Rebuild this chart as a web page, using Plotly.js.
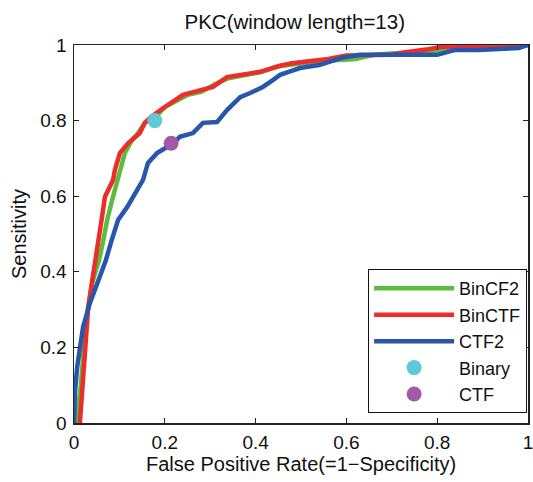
<!DOCTYPE html>
<html>
<head>
<meta charset="utf-8">
<script src="https://cdn.plot.ly/plotly-3.0.1.min.js"></script>
<style>html,body{margin:0;padding:0;background:#fff;}#chart{width:533px;height:482px;}</style>
</head>
<body>
<div id="chart"></div>
<script>
// BinCF2 (green)
const binCF2_x = [0.005, 0.015, 0.022, 0.03, 0.04, 0.055, 0.064, 0.073, 0.084, 0.095, 0.103, 0.112, 0.126, 0.141, 0.156, 0.18, 0.2, 0.22, 0.25, 0.28, 0.31, 0.34, 0.37, 0.41, 0.45, 0.5, 0.55, 0.62, 0.66, 0.74, 0.8, 0.86, 0.95, 1.0];
const binCF2_y = [0.0, 0.1, 0.2, 0.3, 0.37, 0.43, 0.48, 0.537, 0.59, 0.643, 0.68, 0.714, 0.745, 0.767, 0.794, 0.81, 0.836, 0.85, 0.868, 0.876, 0.896, 0.912, 0.92, 0.928, 0.944, 0.95, 0.958, 0.963, 0.974, 0.981, 0.987, 0.991, 0.996, 1.0];
// BinCTF (red)
const binCTF_x = [0.013, 0.02, 0.024, 0.031, 0.038, 0.046, 0.055, 0.062, 0.064, 0.068, 0.078, 0.086, 0.09, 0.101, 0.119, 0.134, 0.145, 0.156, 0.17, 0.2, 0.218, 0.24, 0.271, 0.306, 0.337, 0.366, 0.41, 0.454, 0.48, 0.56, 0.6, 0.7, 0.73, 0.78, 0.81, 0.894, 1.0];
const binCTF_y = [0.0, 0.106, 0.2, 0.3, 0.36, 0.42, 0.48, 0.537, 0.563, 0.598, 0.62, 0.643, 0.669, 0.714, 0.74, 0.757, 0.767, 0.794, 0.81, 0.836, 0.849, 0.868, 0.878, 0.889, 0.915, 0.921, 0.929, 0.945, 0.952, 0.963, 0.972, 0.974, 0.981, 0.989, 0.995, 0.997, 1.0];
// CTF2 (blue)
const ctf2_x = [0.0, 0.002, 0.007, 0.013, 0.02, 0.035, 0.046, 0.064, 0.07, 0.082, 0.097, 0.117, 0.13, 0.152, 0.163, 0.183, 0.205, 0.22, 0.233, 0.262, 0.284, 0.315, 0.337, 0.366, 0.388, 0.416, 0.438, 0.454, 0.476, 0.498, 0.54, 0.59, 0.63, 0.8, 0.84, 0.89, 0.98, 1.0];
const ctf2_y = [0.0, 0.08, 0.148, 0.193, 0.254, 0.317, 0.352, 0.405, 0.43, 0.48, 0.537, 0.571, 0.598, 0.643, 0.688, 0.714, 0.73, 0.74, 0.757, 0.767, 0.794, 0.796, 0.828, 0.862, 0.873, 0.889, 0.907, 0.921, 0.93, 0.939, 0.947, 0.966, 0.974, 0.974, 0.987, 0.987, 0.992, 1.0];
// single operating points
const binary_x = [0.178];
const binary_y = [0.80];
const ctf_x = [0.214];
const ctf_y = [0.74];

const tickVals = [0, 0.2, 0.4, 0.6, 0.8, 1];
const tickText = ['0', '0.2', '0.4', '0.6', '0.8', '1'];

const FONT = 'Liberation Sans, Arial, sans-serif';

const traces = [
  {x: binCF2_x, y: binCF2_y, mode: 'lines', name: 'BinCF2', line: {color: '#5cbd3c', width: 4.5}},
  {x: binCTF_x, y: binCTF_y, mode: 'lines', name: 'BinCTF', line: {color: '#ec2d2a', width: 4.5}},
  {x: ctf2_x, y: ctf2_y, mode: 'lines', name: 'CTF2', line: {color: '#2856ac', width: 4.5}},
  {x: binary_x, y: binary_y, mode: 'markers', name: 'Binary', marker: {color: '#5ccad9', size: 15}},
  {x: ctf_x, y: ctf_y, mode: 'markers', name: 'CTF', marker: {color: '#a25aa8', size: 15}}
];

const axisCommon = {
  range: [0, 1],
  tickvals: tickVals,
  ticktext: tickText,
  ticks: 'inside',
  ticklen: 5,
  tickwidth: 1,
  tickcolor: '#222',
  showline: true,
  linecolor: '#222',
  linewidth: 1.5,
  mirror: 'ticks',
  showgrid: false,
  zeroline: false,
  ticklabeloverflow: 'allow',
  tickfont: {family: FONT, size: 19, color: '#111'}
};

const layout = {
  width: 533,
  height: 482,
  margin: {l: 74, r: 5, t: 45, b: 59},
  paper_bgcolor: '#fff',
  plot_bgcolor: '#fff',
  title: {text: 'PKC(window length=13)', font: {family: FONT, size: 20.5, color: '#111'}, x: 0.553, xanchor: 'center', y: 0.954, yanchor: 'middle'},
  xaxis: Object.assign({}, axisCommon, {ticklabelstandoff: 2}),
  yaxis: Object.assign({}, axisCommon, {ticklabelstandoff: 2, title: {text: 'Sensitivity', font: {family: FONT, size: 20, color: '#111'}, standoff: 8}}),
  annotations: [{
    text: 'False Positive Rate(=1\u2212Specificity)',
    xref: 'paper', yref: 'paper', x: 0.5, y: 0, xanchor: 'center', yanchor: 'top',
    yshift: -28, showarrow: false,
    font: {family: FONT, size: 20, color: '#111'}
  }],
  showlegend: true,
  legend: {
    x: 0.998, y: 0.026, xanchor: 'right', yanchor: 'bottom',
    bgcolor: '#fff', bordercolor: '#111', borderwidth: 1,
    font: {family: FONT, size: 18, color: '#111'},
    itemwidth: 80,
    tracegroupgap: 0
  }
};

Plotly.newPlot('chart', traces, layout, {displayModeBar: false, staticPlot: true});
</script>
</body>
</html>
